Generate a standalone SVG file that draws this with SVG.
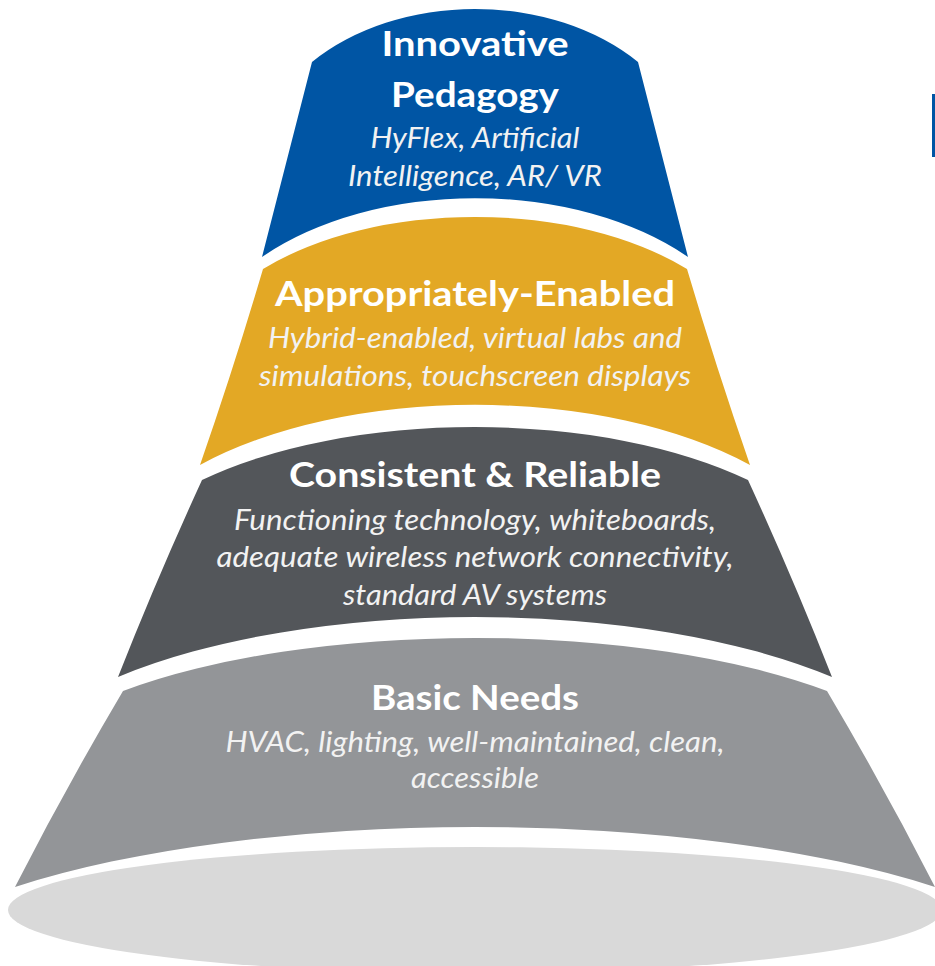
<svg xmlns="http://www.w3.org/2000/svg" width="935" height="966" viewBox="0 0 935 966">
<style>
.t{font-family:"Lato","Carlito","Open Sans",sans-serif;font-weight:700;font-size:35px;fill:#FFFFFF;text-anchor:middle}
.s{font-family:"Lato","Carlito","Open Sans",sans-serif;font-style:italic;font-weight:400;font-size:28px;fill:#F2F2F2;text-anchor:middle}
</style>
<rect width="935" height="966" fill="#FFFFFF"/>
<g id="base">
<ellipse cx="475" cy="910" rx="467" ry="63" fill="#D9D9D9"/>
</g>
<g id="tier-basic">
<path d="M123,691 A475,161.6 0 0 1 827,691 Q885,789 935,887 A621,183 0 0 0 15,887 Q65,789 123,691 Z" fill="#939598"/>
<text class="t" x="475" y="710" textLength="208" lengthAdjust="spacingAndGlyphs">Basic Needs</text>
<text class="s" x="475" y="752" textLength="499" lengthAdjust="spacingAndGlyphs">HVAC, lighting, well-maintained, clean,</text>
<text class="s" x="475" y="788" textLength="128" lengthAdjust="spacingAndGlyphs">accessible</text>
</g>
<g id="tier-consistent">
<path d="M202,480 A369,161.6 0 0 1 748,480 Q793,578 832,677 A482,183 0 0 0 118,677 Q157,578 202,480 Z" fill="#53565A"/>
<text class="t" x="475" y="487" textLength="372" lengthAdjust="spacingAndGlyphs">Consistent &amp; Reliable</text>
<text class="s" x="475" y="530" textLength="482" lengthAdjust="spacingAndGlyphs">Functioning technology, whiteboards,</text>
<text class="s" x="475" y="567" textLength="517" lengthAdjust="spacingAndGlyphs">adequate wireless network connectivity,</text>
<text class="s" x="475" y="605" textLength="264" lengthAdjust="spacingAndGlyphs">standard AV systems</text>
</g>
<g id="tier-enabled">
<path d="M263,269 A286,158.5 0 0 1 687,269 Q716,367 750,465 A371,183 0 0 0 200,465 Q234,367 263,269 Z" fill="#E3A825"/>
<text class="t" x="475" y="306" textLength="400" lengthAdjust="spacingAndGlyphs">Appropriately-Enabled</text>
<text class="s" x="475" y="348" textLength="414" lengthAdjust="spacingAndGlyphs">Hybrid-enabled, virtual labs and</text>
<text class="s" x="475" y="386" textLength="432" lengthAdjust="spacingAndGlyphs">simulations, touchscreen displays</text>
</g>
<g id="tier-innovative">
<path d="M312,62 A220,161.6 0 0 1 638,62 L688,257 A288,180 0 0 0 262,257 Z" fill="#0055A4"/>
<text class="t" x="475" y="56" textLength="187" lengthAdjust="spacingAndGlyphs">Innovative</text>
<text class="t" x="475" y="107" textLength="168" lengthAdjust="spacingAndGlyphs">Pedagogy</text>
<text class="s" x="475" y="148" textLength="209" lengthAdjust="spacingAndGlyphs">HyFlex, Artificial</text>
<text class="s" x="475" y="186" textLength="254" lengthAdjust="spacingAndGlyphs">Intelligence, AR/ VR</text>
</g>
<g id="edge-mark">
<rect x="932" y="94" width="3" height="63" fill="#0055A4"/>
</g>
</svg>
